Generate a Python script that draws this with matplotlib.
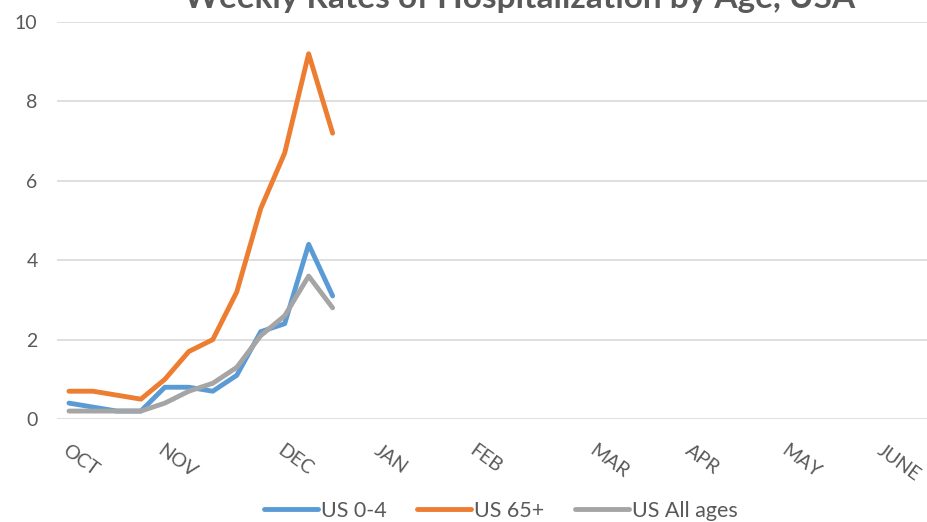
import numpy as np
import matplotlib
matplotlib.use("Agg")
import matplotlib.pyplot as plt

###############################################################################
# Data
###############################################################################
n_weeks = 36
month_pos = [0, 4, 9, 13, 17, 22, 26, 30, 34]
month_names = ["OCT", "NOV", "DEC", "JAN", "FEB", "MAR", "APR", "MAY", "JUNE"]

us_0_4 = [0.4, 0.3, 0.2, 0.2, 0.8, 0.8, 0.7, 1.1, 2.2, 2.4, 4.4, 3.1]
us_65 = [0.7, 0.7, 0.6, 0.5, 1.0, 1.7, 2.0, 3.2, 5.3, 6.7, 9.2, 7.2]
us_all = [0.2, 0.2, 0.2, 0.2, 0.4, 0.7, 0.9, 1.3, 2.1, 2.6, 3.6, 2.8]

series = [("US 0-4", us_0_4, "#5B9BD5"),
          ("US 65+", us_65, "#ED7D31"),
          ("US All ages", us_all, "#A5A5A5")]

###############################################################################
# Plot
###############################################################################
plt.rcParams["font.family"] = ["Lato", "DejaVu Sans"]
txt = "#595959"

fig = plt.figure(figsize=(9.27, 5.22), dpi=100)
ax = fig.add_axes([57 / 927, 1 - 419 / 522, 1 - 57 / 927, (419 - 22) / 522])

for label, vals, col in series:
    ax.plot(np.arange(len(vals)), vals, color=col, linewidth=3.5,
            solid_capstyle="round", solid_joinstyle="round", label=label)

ax.set_ylim(0, 10)
ax.set_xlim(-0.5, n_weeks - 0.2)
ax.set_yticks(np.arange(0, 11, 2))
ax.grid(axis="y", color="#D9D9D9", linewidth=1.2)
ax.set_axisbelow(True)
for s in ax.spines.values():
    s.set_visible(False)

ax.tick_params(axis="y", length=0, pad=14, labelsize=14, labelcolor=txt)
ax.set_xticks(month_pos)
ax.set_xticklabels(month_names)
ax.tick_params(axis="x", length=0, pad=16, labelsize=14, labelcolor=txt)
for t in ax.get_xticklabels():
    t.set_rotation(-36)
    t.set_rotation_mode("anchor")
    t.set_ha("left")
    t.set_va("top")

fig.text(520 / 927, 1 - 8 / 522, "Weekly Rates of Hospitalization by Age, USA",
         ha="center", va="baseline", fontsize=24, fontweight="bold", color=txt)

fig.legend(loc="center", bbox_to_anchor=(501 / 927, 1 - 511 / 522), ncol=3,
           frameon=False, fontsize=15.5, labelcolor=txt, handlelength=2.5,
           handletextpad=0.15, columnspacing=1.4)

fig.savefig("out.png", dpi=100)
